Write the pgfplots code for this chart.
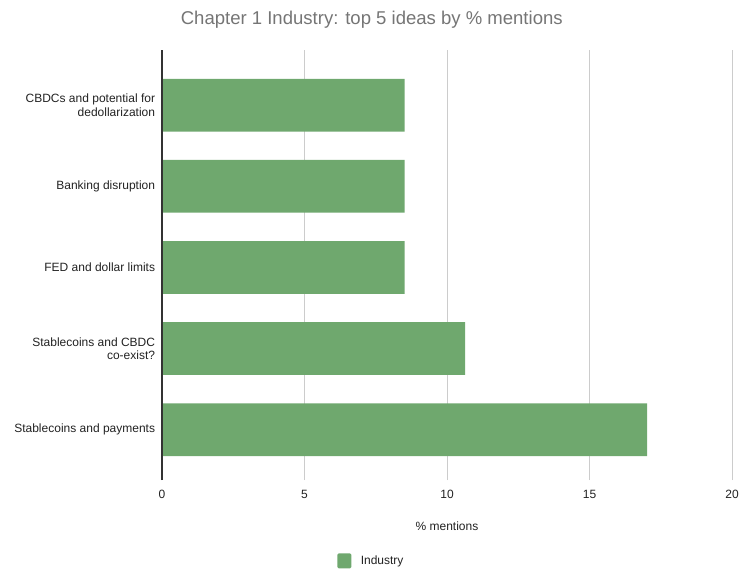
\documentclass[border=0pt]{standalone}
\usepackage{pgfplots}
\pgfplotsset{compat=1.18}
\usepackage{fontspec}
\setmainfont{Liberation Sans}
\definecolor{bargreen}{RGB}{111,168,110}
\definecolor{gridgray}{RGB}{204,204,204}
\definecolor{titlegray}{RGB}{117,117,117}
\definecolor{labeldark}{RGB}{34,34,34}
\begin{document}
\begin{tikzpicture}
\useasboundingbox (-121.5pt,-67.5pt) rectangle (439.5pt,360pt);
\begin{axis}[
  at={(0,0)}, anchor=south west,
  scale only axis,
  width=427.5pt, height=322.5pt,
  xbar, bar width=0.65,
  xmin=0, xmax=20,
  ymin=-0.62, ymax=4.68,
  xtick={0,5,10,15,20},
  ytick={0,1,2,3,4},
  yticklabels={Stablecoins and payments,{Stablecoins and CBDC\\co-exist?},FED and dollar limits,Banking disruption,{CBDCs and potential for\\dedollarization}},
  yticklabel style={align=right, font=\fontsize{9}{10}\selectfont, text=labeldark, inner sep=1pt, xshift=-4pt},
  xticklabel style={font=\fontsize{9}{10}\selectfont, text=labeldark, yshift=-4pt},
  /pgf/number format/assume math mode=true,
  major tick length=0pt,
  axis line style={draw=none},
  xmajorgrids, grid style={gridgray, line width=0.75pt},
  xlabel={\% mentions},
  xlabel style={font=\fontsize{9}{10}\selectfont, text=labeldark, at={(0.5,-0.107)}, anchor=center},
  legend style={at={(0.368,-0.188)}, anchor=center, draw=none, fill=none, font=\fontsize{9}{10}\selectfont, text=labeldark},
  legend image code/.code={\fill[bargreen, rounded corners=1pt] (0pt,-5.6pt) rectangle (10.5pt,5.6pt);},
  clip=false,
]
\addplot[fill=bargreen, draw=none] coordinates {
  (17.02,0) (10.64,1) (8.51,2) (8.51,3) (8.51,4)
};
\addlegendentry{\hspace{5pt}Industry}
\draw[color=black!80, line width=1.1pt] (axis cs:0,-0.62) -- (axis cs:0,4.68);
\node[font=\fontsize{13.9}{15}\selectfont, text=titlegray] at (rel axis cs:0.368,1.07) {Chapter 1 Industry: top 5 ideas by \% mentions};
\end{axis}
\end{tikzpicture}
\end{document}
